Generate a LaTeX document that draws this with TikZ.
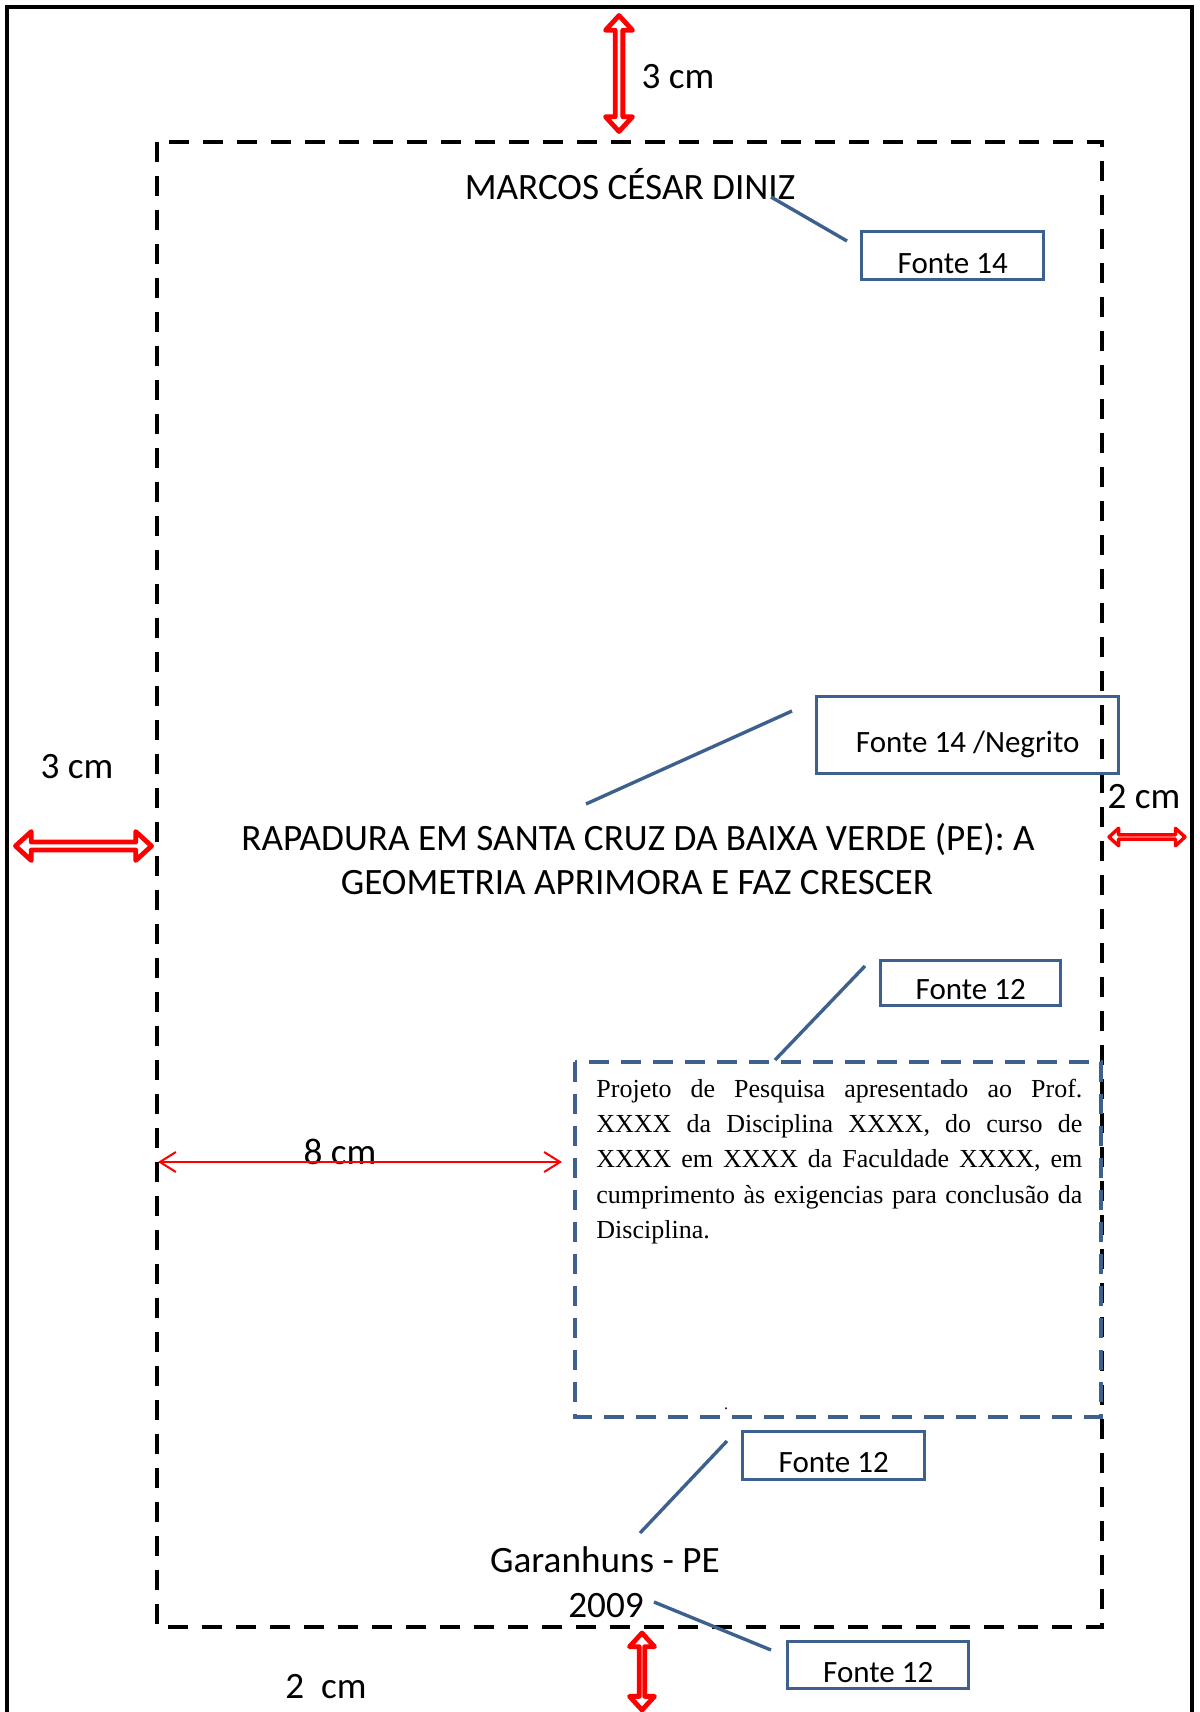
\documentclass[tikz,border=0pt]{standalone}
\usepackage{fontspec}
\setmainfont{Carlito}
\newfontfamily\serifpart{Liberation Serif}
\usetikzlibrary{shapes.arrows,arrows.meta}
\definecolor{boxblue}{RGB}{62,96,142}
\begin{document}
\begin{tikzpicture}[x=0.5pt, y=-0.5pt, >={Straight Barb[length=8pt,width=10pt]},
    big/.style={font=\fontsize{18.6}{21.5}\selectfont, inner sep=0pt, anchor=base},
    fonte/.style={draw=boxblue, line width=1.7pt, font=\fontsize{15.5}{18}\selectfont, inner xsep=0pt, inner ysep=2pt, anchor=north west},
    lead/.style={draw=boxblue, line width=1.7pt},
    margem/.style={double arrow, draw=red, fill=white, inner sep=0pt, line join=round, double arrow tip angle=85}]
  \useasboundingbox (0,0) rectangle (1199,1712);
  \draw[line width=2.2pt] (7,1720) -- (7,7) -- (1192,7) -- (1192,1720);
  \draw[line width=2.3pt, dash pattern=on 10pt off 7pt] (157,142) rectangle (1102,1627);
  \draw[boxblue, line width=2pt, dash pattern=on 10pt off 6pt] (575,1062) rectangle (1101,1417);
  % margins
  \node[margem, line width=2.4pt, rotate=90, minimum height=58pt, minimum width=13.5pt, double arrow head extend=3pt] (setasup) at (619,73.5) {};
  \node[margem, line width=2.4pt, minimum height=68pt, minimum width=14.5pt, double arrow head extend=3.25pt] (setaesq) at (83.5,846) {};
  \node[margem, line width=1.7pt, minimum height=38pt, minimum width=8.75pt, double arrow head extend=2.75pt] (setadir) at (1147,837) {};
  \node[margem, line width=2.4pt, rotate=90, minimum height=38.5pt, minimum width=12.5pt, double arrow head extend=4.25pt] (setainf) at (642,1671.5) {};
  \node[big] (msup) at (678,89) {3 cm};
  \node[big] (mesq) at (77,778) {3 cm};
  \node[big] (mdir) at (1144,808) {2 cm};
  \node[big] (minf) at (326,1698) {2\ \ cm};
  % texts
  \node[big] (nome) at (630,200) {MARCOS CÉSAR DINIZ};
  \node[big] (titulo) at (638,850) {RAPADURA EM SANTA CRUZ DA BAIXA VERDE (PE): A};
  \node[big] (titulob) at (637,894) {GEOMETRIA APRIMORA E FAZ CRESCER};
  \node[anchor=base west, inner sep=0pt, text width=243pt, align=justify, font=\serifpart\fontsize{13}{17.7}\selectfont] (resumo) at (596,1097)
    {Projeto de Pesquisa apresentado ao Prof.\linebreak XXXX da Disciplina XXXX, do curso de\linebreak XXXX em XXXX da Faculdade XXXX, em\linebreak cumprimento às exigencias para conclusão da\linebreak Disciplina.};
  \node[inner sep=0pt, font=\serifpart\fontsize{8}{8}\selectfont] (ponto) at (726,1409) {.};
  \node[big] (cidade) at (605,1572) {Garanhuns - PE};
  \node[big] (ano) at (606,1617) {2009};
  \node[big] (oito) at (340,1164) {8 cm};
  % font labels
  \node[fonte, minimum width=91pt, text height=19pt, text depth=1pt] (f14) at (860,230) {Fonte 14};
  \node[fonte, minimum width=151pt, text height=26pt, text depth=8.5pt] (fneg) at (815,695) {Fonte 14 /Negrito};
  \node[fonte, minimum width=90pt, text height=17.5pt, text depth=1pt] (f12a) at (879,959) {Fonte 12};
  \node[fonte, minimum width=91pt, text height=18.5pt, text depth=1.5pt] (f12b) at (741,1430) {Fonte 12};
  \node[fonte, minimum width=90.5pt, text height=18.5pt, text depth=1pt] (f12c) at (786,1640) {Fonte 12};
  \coordinate (nomept) at (771,197);
  \coordinate (f14pt) at (847,241);
  \coordinate (negpt) at (792,711);
  \coordinate (titpt) at (586,804);
  \coordinate (f12apt) at (865,966);
  \coordinate (resumopt) at (775,1060);
  \coordinate (f12bpt) at (727,1441);
  \coordinate (cidadept) at (640,1533);
  \coordinate (anopt) at (654,1602);
  \coordinate (f12cpt) at (771,1650);
  \draw[lead] (nomept) -- (f14pt);
  \draw[lead] (negpt) -- (titpt);
  \draw[lead] (f12apt) -- (resumopt);
  \draw[lead] (f12bpt) -- (cidadept);
  \draw[lead] (anopt) -- (f12cpt);
  \coordinate (oitoa) at (158,1162);
  \coordinate (oitob) at (562,1162);
  \draw[red, line width=1pt, <->] (oitoa) -- (oitob);
\end{tikzpicture}
\end{document}
